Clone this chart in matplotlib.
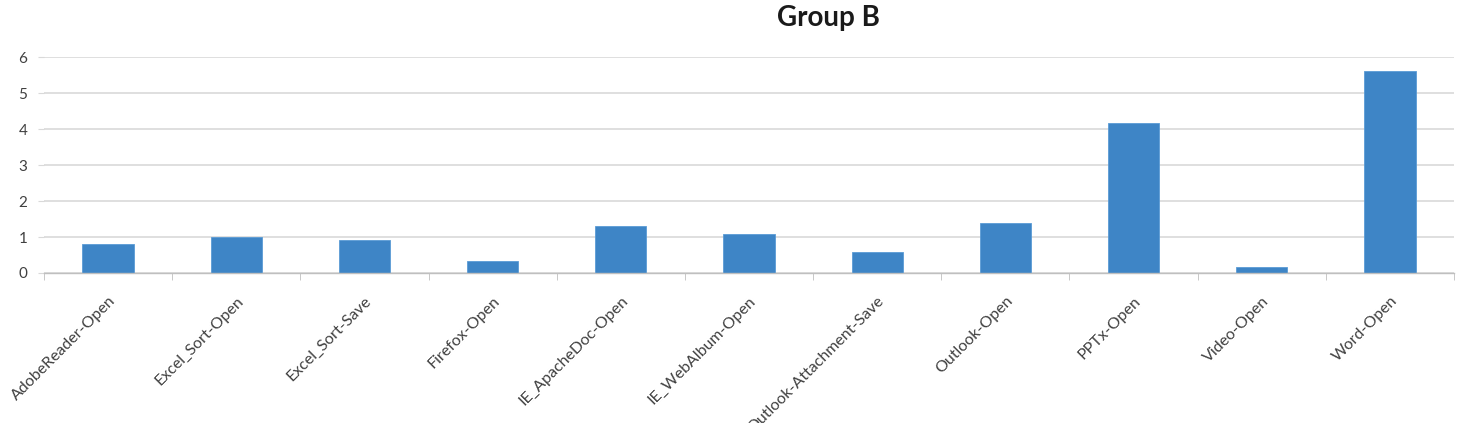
import matplotlib
matplotlib.use("Agg")
import matplotlib.pyplot as plt
import numpy as np

categories = ["AdobeReader-Open", "Excel_Sort-Open", "Excel_Sort-Save", "Firefox-Open",
              "IE_ApacheDoc-Open", "IE_WebAlbum-Open", "Outlook-Attachment-Save",
              "Outlook-Open", "PPTx-Open", "Video-Open", "Word-Open"]
values = [0.81, 1.01, 0.92, 0.32, 1.31, 1.07, 0.58, 1.38, 4.16, 0.16, 5.61]
yticks = [0, 1, 2, 3, 4, 5, 6]

plt.rcParams['font.family'] = ['Lato', 'DejaVu Sans']

fig = plt.figure(figsize=(14.59, 4.23), dpi=100)
ax = fig.add_axes([44/1459, (423-273)/423, (1454-44)/1459, (273-57)/423])

x = np.arange(len(categories))
ax.bar(x, values, width=0.4, color="#3E85C6", edgecolor="#5A9BD5", linewidth=0.6, zorder=3)

ax.set_xlim(-0.5, len(categories) - 0.5)
ax.set_ylim(0, 6)
ax.set_yticks(yticks)
ax.set_yticklabels([str(t) for t in yticks], fontsize=11, color="#404040")
ax.yaxis.grid(True, color="#D9D9D9", linewidth=1.2, zorder=0)
ax.tick_params(axis='y', length=4, color="#D9D9D9", pad=8)

ax.set_xticks(x)
ax.set_xticklabels(categories, rotation=45, ha='right', va='top', rotation_mode='anchor',
                   fontsize=11.5, color="#404040")
ax.tick_params(axis='x', which='major', length=0, pad=15)
ax.set_xticks(np.arange(len(categories) + 1) - 0.5, minor=True)
ax.tick_params(axis='x', which='minor', length=5, color="#BFBFBF", direction='out')

for s in ['top', 'right', 'left']:
    ax.spines[s].set_visible(False)
ax.spines['bottom'].set_color("#BFBFBF")
ax.spines['bottom'].set_linewidth(1.0)
ax.spines['bottom'].set_zorder(4)

fig.text(828/1459, 1 - 18/423, "Group B", ha='center', va='center', fontsize=20,
         fontweight='bold', color="#1A1A1A")

fig.savefig("out.png", dpi=100)
